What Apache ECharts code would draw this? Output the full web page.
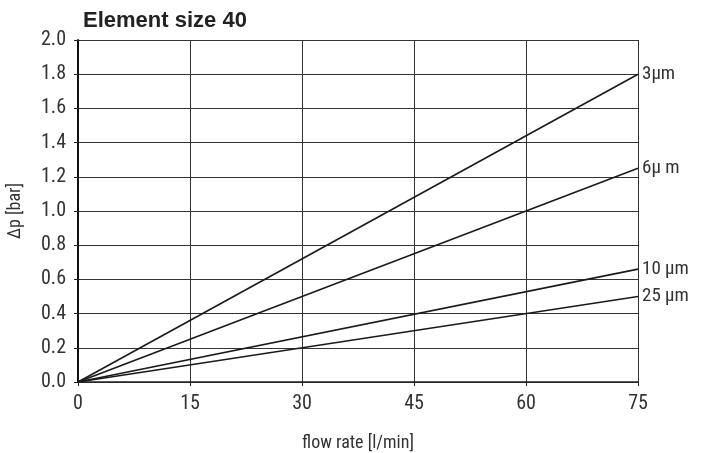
<!DOCTYPE html>
<html><head><meta charset="utf-8">
<script src="https://cdn.jsdelivr.net/npm/echarts@6/dist/echarts.min.js"></script>
<style>html,body{margin:0;padding:0;background:#fff}#c{width:701px;height:453px}</style>
</head><body><div id="c"></div>
<script>
const title = "Element size 40";
const xTicks = [0, 15, 30, 45, 60, 75];
const seriesNames = ["3\u03bcm", "6\u03bc m", "10 \u03bcm", "25 \u03bcm"];
const s3 = [[0, 0], [75, 1.80]];
const s6 = [[0, 0], [75, 1.25]];
const s10 = [[0, 0], [75, 0.66]];
const s25 = [[0, 0], [75, 0.50]];
const allData = [s3, s6, s10, s25];

const font = "'Liberation Sans Narrow', 'Roboto Condensed', 'Liberation Sans', sans-serif";
const chart = echarts.init(document.getElementById('c'));
chart.setOption({
  animation: false,
  title: { text: title, left: 78, top: 5, textStyle: { fontFamily: "'Liberation Sans', Arial, sans-serif", fontWeight: 'bold', fontSize: 22, color: '#222' } },
  grid: { left: 78, right: 63, top: 40, bottom: 71, containLabel: false, outerBoundsMode: 'none' },
  xAxis: {
    type: 'value', min: 0, max: 75, interval: 15,
    name: 'flow rate [l/min]', nameLocation: 'middle', nameGap: 52,
    nameTextStyle: { fontFamily: font, fontSize: 18, color: '#333' },
    axisLine: { lineStyle: { color: '#222', width: 1.5 } },
    axisTick: { show: true, length: 4, lineStyle: { color: '#222' } },
    axisLabel: { fontFamily: font, fontSize: 20, color: '#333', margin: 12 },
    splitLine: { show: true, lineStyle: { color: '#333', width: 1 } }
  },
  yAxis: {
    type: 'value', min: 0, max: 2, interval: 0.2,
    name: '\u0394p [bar]', nameLocation: 'middle', nameGap: 54,
    nameTextStyle: { fontFamily: font, fontSize: 18, color: '#333' },
    axisLine: { show: true, lineStyle: { color: '#111', width: 2 } },
    axisTick: { show: true, length: 4, lineStyle: { color: '#222' } },
    axisLabel: { fontFamily: font, fontSize: 20, color: '#333', margin: 12, formatter: v => v.toFixed(1) },
    splitLine: { show: true, lineStyle: { color: '#333', width: 1 } }
  },
  series: allData.map((d, i) => ({
    type: 'line', name: seriesNames[i], data: d, symbol: 'none',
    lineStyle: { color: '#1a1a1a', width: 1.6 },
    endLabel: { show: true, formatter: seriesNames[i], fontFamily: font, fontSize: 19, color: '#333', distance: 4 }
  }))
});
</script></body></html>
